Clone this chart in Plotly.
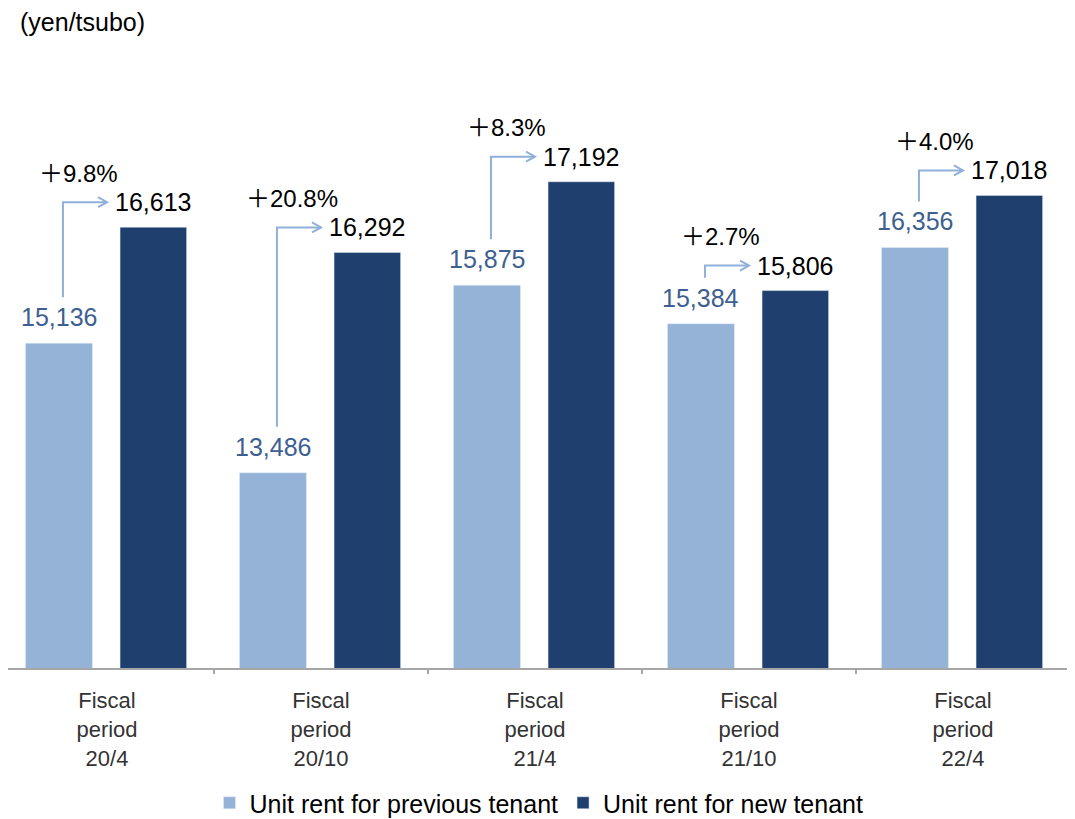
import plotly.graph_objects as go

categories = ["Fiscal<br>period<br>20/4", "Fiscal<br>period<br>20/10", "Fiscal<br>period<br>21/4",
              "Fiscal<br>period<br>21/10", "Fiscal<br>period<br>22/4"]
previous_rent = [15136, 13486, 15875, 15384, 16356]
new_rent = [16613, 16292, 17192, 15806, 17018]
series_names = ["Unit rent for previous tenant", "Unit rent for new tenant"]
unit_label = "(yen/tsubo)"

# page body has an 8px margin; figure sized to fit the window
W, H = 1067, 811
ML, MR, MT, MB = 0, 5, 71, 151
YMIN, YMAX = 11000, 18500
plot_w = W - ML - MR
plot_h = H - MT - MB
px_x = 214.0                              # pixels per category unit
x_right = len(categories) - 0.5
x_left = x_right - plot_w / px_x
px_y = plot_h / (YMAX - YMIN)            # pixels per yen

LIGHT = "#95B3D7"
DARK = "#1F3F6E"
LIGHT_TXT = "#3D6090"
ARROW = "#8FB0D9"
FONT = "Liberation Sans, Arial, sans-serif"
PLUS = "<span style=\"font-family:'Noto Sans CJK JP'\">＋</span>"

w_light, off_light = 0.313, -0.381
w_dark, off_dark = 0.311, 0.061
cx_light = off_light + w_light / 2
cx_dark = off_dark + w_dark / 2

xs = list(range(len(categories)))

fig = go.Figure()
fig.add_bar(x=xs, y=previous_rent, name=series_names[0], marker_color=LIGHT,
            width=w_light, offset=off_light)
fig.add_bar(x=xs, y=new_rent, name=series_names[1], marker_color=DARK,
            width=w_dark, offset=off_dark)

annotations = []
shapes = []
for i, (p, n) in enumerate(zip(previous_rent, new_rent)):
    annotations.append(dict(x=i + cx_light, y=p, yshift=26, text=f"{p:,}", showarrow=False,
                            font=dict(size=25, color=LIGHT_TXT, family=FONT)))
    annotations.append(dict(x=i + cx_dark, y=n, yshift=25, text=f"{n:,}", showarrow=False,
                            font=dict(size=25, color="#000000", family=FONT)))
    pct = (n / p - 1) * 100
    annotations.append(dict(x=i - 29 / px_x, y=n, yshift=56, text=f"{PLUS}{pct:.1f}%", showarrow=False,
                            font=dict(size=24, color="#000000", family=FONT)))
    # elbow arrow
    xv = i + cx_light + 4 / px_x
    yb = p + 46 / px_y
    yt = n + 25 / px_y
    xe = i
    shapes.append(dict(type="path", xref="x", yref="y",
                       path=f"M {xv},{yb} L {xv},{yt} L {xe},{yt}",
                       line=dict(color=ARROW, width=2)))
    hx, hy = 9 / px_x, 5 / px_y
    shapes.append(dict(type="path", xref="x", yref="y",
                       path=f"M {xe - hx},{yt + hy} L {xe},{yt} L {xe - hx},{yt - hy}",
                       line=dict(color=ARROW, width=2)))

# boundary tick marks between categories
for b in range(1, len(categories)):
    shapes.append(dict(type="line", xref="x", yref="paper", x0=b - 0.5, x1=b - 0.5,
                       y0=0, y1=-6 / plot_h, line=dict(color="#A6A6A6", width=2)))

annotations.append(dict(xref="paper", yref="paper", x=10 / plot_w, xanchor="left",
                        y=1 + (MT - 14) / plot_h, yanchor="middle", text=unit_label,
                        showarrow=False, font=dict(size=25, color="#000000", family=FONT)))

fig.update_layout(
    width=W, height=H,
    margin=dict(l=ML, r=MR, t=MT, b=MB),
    plot_bgcolor="white", paper_bgcolor="white",
    barmode="overlay",
    showlegend=True,
    legend=dict(orientation="h", x=0.5, xanchor="center", yref="container", y=16 / H,
                yanchor="middle", font=dict(size=25, color="#000000", family=FONT),
                traceorder="normal"),
    annotations=annotations,
    shapes=shapes,
    xaxis=dict(range=[x_left, x_right], tickmode="array", tickvals=xs,
               ticktext=categories, showline=True, linecolor="#A6A6A6", linewidth=2,
               ticks="", showgrid=False, zeroline=False, ticklabelstandoff=12,
               tickfont=dict(size=22, color="#333333", family=FONT)),
    yaxis=dict(range=[YMIN, YMAX], visible=False, showgrid=False),
)

fig.write_html("out.html")
